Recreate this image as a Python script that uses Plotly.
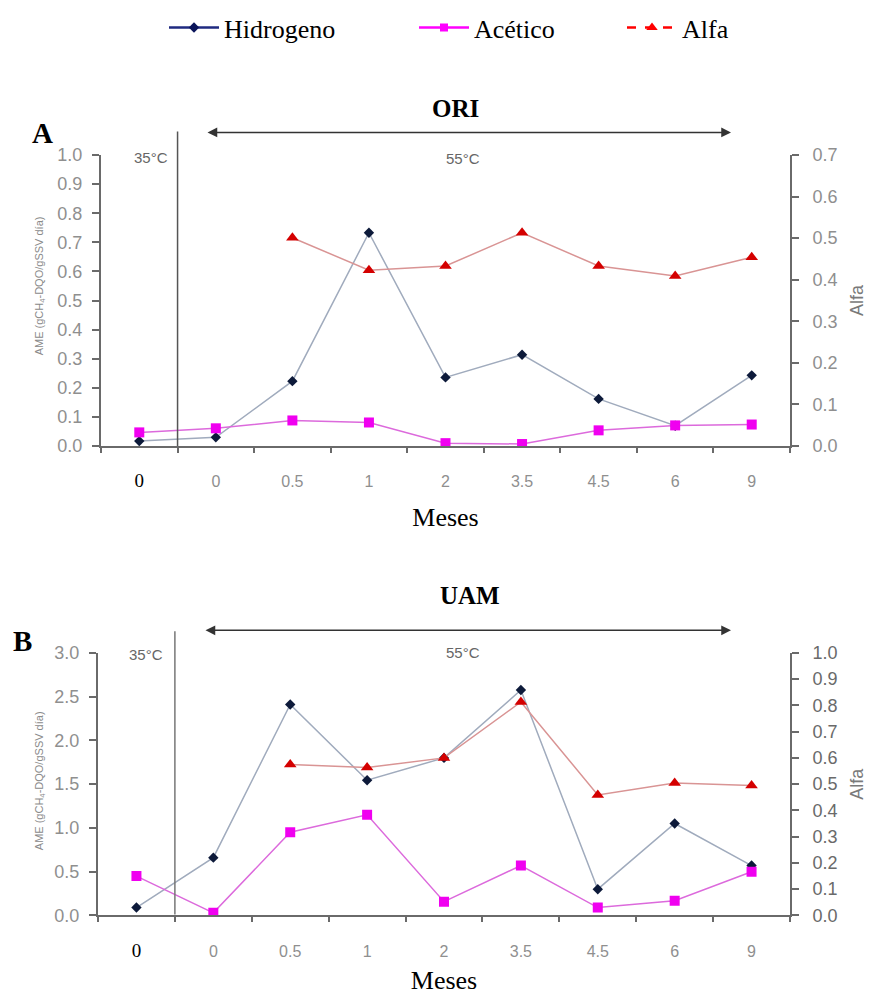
import plotly.graph_objects as go

W, H = 872, 996

# ---------------- data ----------------
meses = ["0", "0", "0.5", "1", "2", "3.5", "4.5", "6", "9"]
xpos = list(range(len(meses)))
series_names = ["Hidrogeno", "Acético", "Alfa"]

ori_hidrogeno = [0.017, 0.030, 0.223, 0.733, 0.236, 0.314, 0.162, 0.070, 0.243]
ori_acetico = [0.047, 0.061, 0.088, 0.081, 0.010, 0.007, 0.054, 0.071, 0.074]
ori_alfa = [None, None, 0.501, 0.423, 0.433, 0.513, 0.433, 0.409, 0.454]

uam_hidrogeno = [0.09, 0.66, 2.41, 1.545, 1.80, 2.575, 0.30, 1.05, 0.57]
uam_acetico = [0.45, 0.03, 0.95, 1.15, 0.157, 0.57, 0.09, 0.168, 0.50]
uam_alfa = [None, None, 0.575, 0.563, 0.600, 0.813, 0.459, 0.504, 0.495]

# ---------------- helpers ----------------
def px(x):
    return x / W

def py(y):
    return 1 - y / H

SERIF = "Liberation Serif"
SANS = "Liberation Sans"
GRAY = "#8f8f8f"
AXC = "#6a6a6a"

H_LINE, H_MARK = "#a0abbd", "#0d1a3a"
A_LINE, A_MARK = "#dc6adc", "#f000f0"
F_LINE, F_MARK = "#d99494", "#d40000"

ticktext = ['<span style="color:#000;font-family:Liberation Serif;font-size:19px">%s</span>' % meses[0]] + meses[1:]

fig = go.Figure()

def add_panel(xa, ya, ya2, hid, ace, alf):
    fig.add_trace(go.Scatter(x=xpos, y=hid, xaxis=xa, yaxis=ya, mode="lines+markers",
                             line=dict(color=H_LINE, width=1.5),
                             marker=dict(symbol="diamond", size=8, color=H_MARK),
                             showlegend=False, name=series_names[0]))
    fig.add_trace(go.Scatter(x=xpos, y=ace, xaxis=xa, yaxis=ya, mode="lines+markers",
                             line=dict(color=A_LINE, width=1.5),
                             marker=dict(symbol="square", size=10, color=A_MARK),
                             showlegend=False, name=series_names[1]))
    fig.add_trace(go.Scatter(x=xpos, y=alf, xaxis=xa, yaxis=ya2, mode="lines+markers",
                             line=dict(color=F_LINE, width=1.5),
                             marker=dict(symbol="triangle-up", size=11, color=F_MARK),
                             showlegend=False, name=series_names[2]))

add_panel("x", "y", "y2", ori_hidrogeno, ori_acetico, ori_alfa)
add_panel("x3", "y3", "y4", uam_hidrogeno, uam_acetico, uam_alfa)

# legend-only traces
fig.add_trace(go.Scatter(x=[None], y=[None], mode="lines+markers", name=series_names[0],
                         line=dict(color="#1f2a80", width=2.5),
                         marker=dict(symbol="diamond", size=8, color="#0a145a"), legend="legend"))
fig.add_trace(go.Scatter(x=[None], y=[None], mode="lines+markers", name=series_names[1],
                         line=dict(color="#ff00ff", width=2.5),
                         marker=dict(symbol="square", size=8, color="#ff00ff"), legend="legend2"))
fig.add_trace(go.Scatter(x=[None], y=[None], mode="lines+markers", name=series_names[2],
                         line=dict(color="#ff0000", width=2.5, dash="dash"),
                         marker=dict(symbol="triangle-up", size=10, color="#ff0000"), legend="legend3"))

def xaxis_cfg(x0, x1, anchor, title_standoff):
    return dict(domain=[px(x0), px(x1)], anchor=anchor, range=[-0.5, 8.5],
                tickmode="array", tickvals=xpos, ticktext=ticktext, ticks="",
                tickfont=dict(family=SANS, size=16, color=GRAY), ticklabelstandoff=20,
                showline=True, linecolor=AXC, linewidth=2, showgrid=False, zeroline=False,
                minor=dict(tickmode="array", tickvals=[i + 0.5 for i in range(-1, 9)],
                           ticks="outside", ticklen=5, tickwidth=1.5, tickcolor=AXC),
                title=dict(text="Meses", font=dict(family=SERIF, size=26, color="#000"),
                           standoff=title_standoff),
                fixedrange=True)

def yaxis_cfg(y0, y1, anchor, rng, dtick, side="left", overlay=None, title=None, tcol=GRAY, standoff=6):
    d = dict(domain=[py(y1), py(y0)], anchor=anchor, range=rng, dtick=dtick, tick0=0,
             tickformat=".1f", ticks="outside", ticklen=7, tickwidth=1.5, tickcolor=AXC,
             tickfont=dict(family=SANS, size=18, color=tcol), ticklabelstandoff=standoff,
             showline=True, linecolor=AXC, linewidth=2, showgrid=False, zeroline=False,
             side=side, fixedrange=True)
    if overlay:
        d["overlaying"] = overlay
        d.pop("domain")
    if title:
        d["title"] = dict(text=title, font=dict(family=SANS, size=18, color="#7a7a7a"), standoff=14)
    return d

fig.update_layout(
    width=W, height=H, margin=dict(l=0, r=0, t=0, b=0),
    paper_bgcolor="white", plot_bgcolor="white",
    font=dict(family=SERIF, size=24, color="#000"),
    xaxis=xaxis_cfg(101, 790, "y", 18),
    yaxis=yaxis_cfg(148, 445, "x", [0, 1.0], 0.1, standoff=6),
    yaxis2=yaxis_cfg(148, 445, "x", [0, 0.7], 0.1, side="right", overlay="y", title="Alfa", standoff=10),
    xaxis3=xaxis_cfg(98, 790, "y3", 11),
    yaxis3=yaxis_cfg(656, 924, "x3", [0, 3.0], 0.5, standoff=6),
    yaxis4=yaxis_cfg(656, 924, "x3", [0, 1.0], 0.1, side="right", overlay="y3", title="Alfa",
                     tcol="#6a6a6a", standoff=10),
)

def legend_cfg(text_left):
    return dict(orientation="h", yanchor="middle", xanchor="left", y=py(18),
                x=px(text_left - 60), itemwidth=50, bgcolor="rgba(0,0,0,0)",
                font=dict(family=SERIF, size=26, color="#000"))

fig.update_layout(legend=legend_cfg(224), legend2=legend_cfg(474), legend3=legend_cfg(682))

shapes = [
    dict(type="line", xref="x", yref="paper", x0=0.5, x1=0.5, y0=py(445), y1=py(124),
         line=dict(color="#555", width=1.5)),
    dict(type="line", xref="x3", yref="paper", x0=0.5, x1=0.5, y0=py(923), y1=py(634),
         line=dict(color="#777", width=1.5)),
]
fig.update_layout(shapes=shapes)

ann = []
def text(x, y, t, size, family=SERIF, color="#000", bold=False, angle=0):
    s = "<b>%s</b>" % t if bold else t
    ann.append(dict(x=px(x), y=py(y), xref="paper", yref="paper", text=s, showarrow=False,
                    textangle=angle, xanchor="center", yanchor="middle",
                    font=dict(family=family, size=size, color=color)))

def arrow(x0, x1, y):
    ann.append(dict(x=px(x1), y=py(y), xref="paper", yref="paper", ax=x0 - x1, ay=0,
                    axref="pixel", ayref="pixel", text="", showarrow=True,
                    arrowside="end+start", arrowhead=2, startarrowhead=2,
                    arrowsize=1.3, startarrowsize=1.3, arrowwidth=1.5, arrowcolor="#333"))

text(455, 101, "ORI", 25, bold=True)
text(470, 597, "UAM", 25, bold=True)
text(42, 126, "A", 29, bold=True)
text(22, 644, "B", 29, bold=True)
arrow(206, 731, 125)
arrow(204, 731, 633)
text(151, 151, "35°C", 15, family=SANS, color="#666")
text(463, 152, "55°C", 15, family=SANS, color="#666")
text(146, 658, "35°C", 15, family=SANS, color="#666")
text(463, 656, "55°C", 15, family=SANS, color="#666")
text(40, 282, "AME (gCH<sub>4</sub>-DQO/gSSV día)", 11, family=SANS, color="#8a8a8a", angle=-90)
text(40, 787, "AME (gCH<sub>4</sub>-DQO/gSSV día)", 11, family=SANS, color="#8a8a8a", angle=-90)
fig.update_layout(annotations=ann)

fig.write_html("out.html")
